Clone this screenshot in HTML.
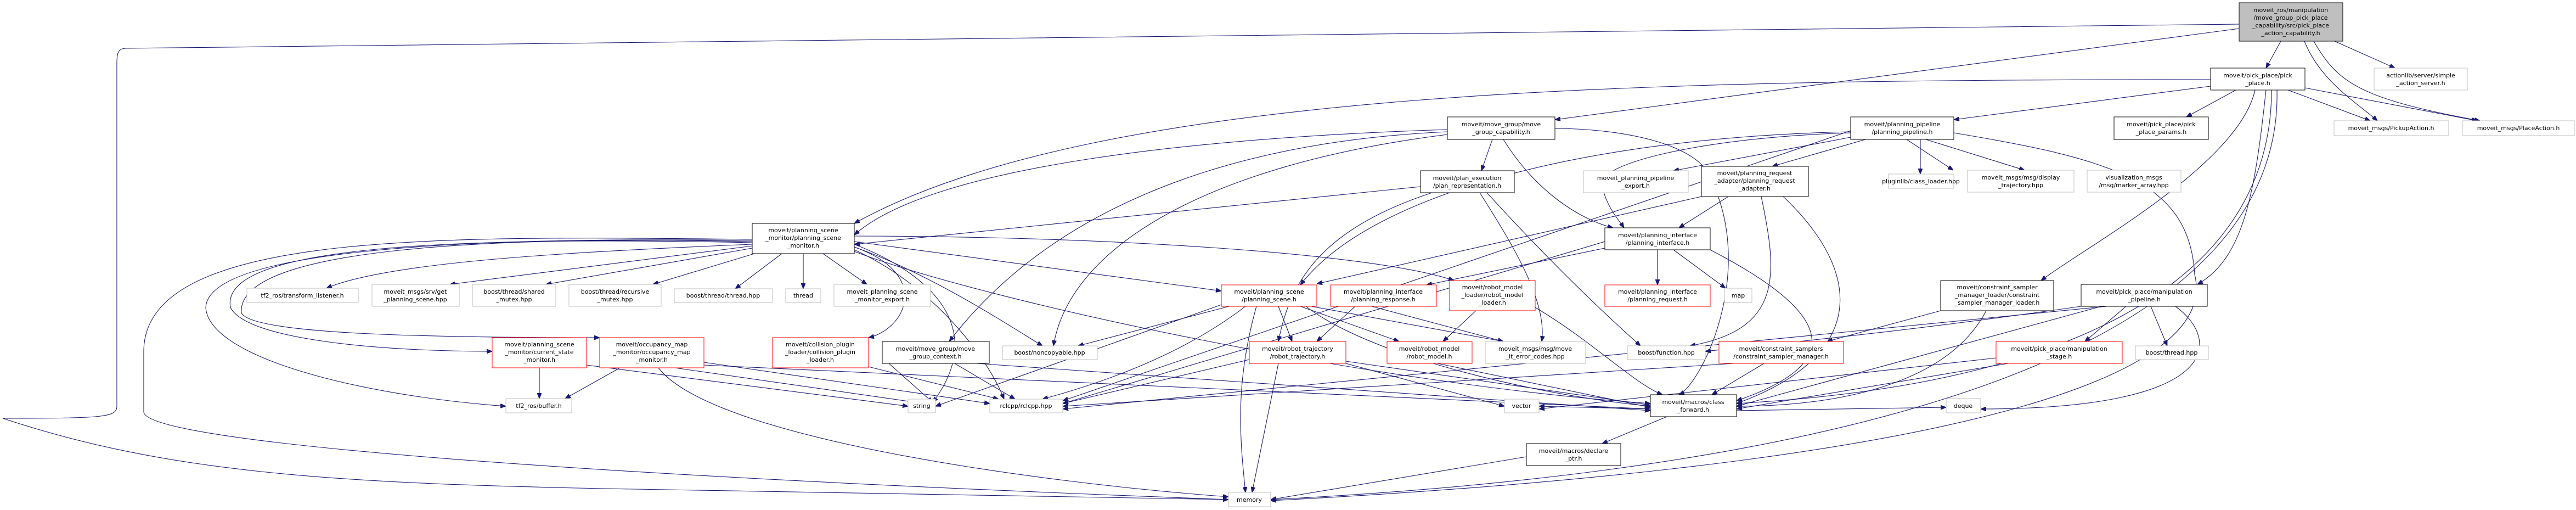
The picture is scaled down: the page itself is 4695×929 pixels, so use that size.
<!DOCTYPE html>
<html><head><meta charset="utf-8"><style>
html,body{margin:0;padding:0;background:#fff}
svg{display:block}
text{font-family:"DejaVu Sans","Liberation Sans",sans-serif;font-size:11px;fill:#000}
.e{fill:none;stroke:#191970;stroke-width:1.1}
.b{fill:#fff;stroke:#000;stroke-width:1}
.g{fill:#fff;stroke:#bfbfbf;stroke-width:1}
.r{fill:#fff;stroke:#ff0000;stroke-width:1}
</style></head><body>
<svg width="4695" height="929" viewBox="0 0 4695 929" xmlns="http://www.w3.org/2000/svg">
<defs><marker id="a" viewBox="0 0 10 8" refX="10" refY="4" markerWidth="10" markerHeight="8" markerUnits="userSpaceOnUse" orient="auto"><path d="M0,0 L10,4 L0,8 z" fill="#191970" stroke="#191970"/></marker></defs>
<g>
<path class="e" marker-end="url(#a)" d="M4157,75 L4130,124"/>
<path class="e" marker-end="url(#a)" d="M4255,75 L4365,124"/>
<path class="e" marker-end="url(#a)" d="M4200,75 C4230,150 4300,190 4333,220"/>
<path class="e" marker-end="url(#a)" d="M4217,75 C4260,150 4300,180 4520,220"/>
<path class="e" marker-end="url(#a)" d="M4081,52 L2834,218"/>
<path class="e" marker-end="url(#a)" d="M4081,44 L230,88 C213,88 213,100 213,120 L213,740 C213,760 190,762 5,762 C300,860 600,880 1100,890 L2239,910"/>
<path class="e" marker-end="url(#a)" d="M4029,157 L3561,218"/>
<path class="e" marker-end="url(#a)" d="M4075,164 L3985,213"/>
<path class="e" marker-end="url(#a)" d="M4170,164 L4320,220"/>
<path class="e" marker-end="url(#a)" d="M4201,160 L4515,220"/>
<path class="e" marker-end="url(#a)" d="M4029,145 C3000,145 2000,160 1557,407"/>
<path class="e" marker-end="url(#a)" d="M4110,164 C4080,300 3800,450 3720,511"/>
<path class="e" marker-end="url(#a)" d="M4130,164 C4110,350 4090,470 4005,518"/>
<path class="e" marker-end="url(#a)" d="M4140,164 C4140,500 3800,700 3165,735"/>
<path class="e" marker-end="url(#a)" d="M4150,164 C4160,600 3500,850 2316,910"/>
<path class="e" marker-end="url(#a)" d="M2720,254 L2700,311"/>
<path class="e" marker-end="url(#a)" d="M2740,254 C2800,350 2880,400 2940,415"/>
<path class="e" marker-end="url(#a)" d="M2638,236 C2200,250 1700,300 1557,428"/>
<path class="e" marker-end="url(#a)" d="M2638,240 C2200,260 1900,400 1730,622"/>
<path class="e" marker-end="url(#a)" d="M2638,245 C2200,300 1950,450 1920,630"/>
<path class="e" marker-end="url(#a)" d="M2834,234 C2950,234 3100,260 3120,330 C3200,500 3100,700 3060,719"/>
<path class="e" marker-end="url(#a)" d="M2589,340 L1557,445"/>
<path class="e" marker-end="url(#a)" d="M2610,351 C2400,420 2350,520 2330,622"/>
<path class="e" marker-end="url(#a)" d="M2697,351 C2760,450 2820,550 2810,622"/>
<path class="e" marker-end="url(#a)" d="M2710,351 C2800,450 2900,550 2990,630"/>
<path class="e" marker-end="url(#a)" d="M3500,254 L3500,317"/>
<path class="e" marker-end="url(#a)" d="M3475,254 L3560,310"/>
<path class="e" marker-end="url(#a)" d="M3510,254 L3690,310"/>
<path class="e" marker-end="url(#a)" d="M3400,254 L3230,303"/>
<path class="e" marker-end="url(#a)" d="M3373,250 L3050,311"/>
<path class="e" marker-end="url(#a)" d="M3373,242 C3100,250 2900,300 2920,340 C2930,380 2950,400 2960,415"/>
<path class="e" marker-end="url(#a)" d="M3373,240 C2900,250 2500,350 2370,519"/>
<path class="e" marker-end="url(#a)" d="M3373,238 L1937,730"/>
<path class="e" marker-end="url(#a)" d="M3561,242 C3850,290 3990,330 4000,500 C4050,700 3500,850 2316,912"/>
<path class="e" marker-end="url(#a)" d="M3150,358 L3060,415"/>
<path class="e" marker-end="url(#a)" d="M3210,358 C3240,500 3250,600 3080,630"/>
<path class="e" marker-end="url(#a)" d="M3101,358 L2400,517"/>
<path class="e" marker-end="url(#a)" d="M3250,358 C3400,500 3400,650 3165,735"/>
<path class="e" marker-end="url(#a)" d="M3021,455 L3021,519"/>
<path class="e" marker-end="url(#a)" d="M3050,455 L3145,525"/>
<path class="e" marker-end="url(#a)" d="M2925,452 L2600,519"/>
<path class="e" marker-end="url(#a)" d="M2925,440 L1937,735"/>
<path class="e" marker-end="url(#a)" d="M3117,455 C3300,550 3400,650 3165,730"/>
<path class="e" marker-end="url(#a)" d="M1371,445 C1000,460 700,480 595,525"/>
<path class="e" marker-end="url(#a)" d="M1371,448 L820,518"/>
<path class="e" marker-end="url(#a)" d="M1371,452 L995,518"/>
<path class="e" marker-end="url(#a)" d="M1375,462 L1190,518"/>
<path class="e" marker-end="url(#a)" d="M1425,462 L1340,526"/>
<path class="e" marker-end="url(#a)" d="M1464,462 L1464,526"/>
<path class="e" marker-end="url(#a)" d="M1500,462 L1580,518"/>
<path class="e" marker-end="url(#a)" d="M1371,442 C800,430 400,450 420,560 C450,620 700,640 897,640"/>
<path class="e" marker-end="url(#a)" d="M1371,440 C900,430 430,450 440,570 C460,610 800,615 1093,615"/>
<path class="e" marker-end="url(#a)" d="M1371,438 C800,430 380,460 375,560 C380,650 650,720 922,740"/>
<path class="e" marker-end="url(#a)" d="M1371,436 C800,430 262,420 262,640 L262,750 C262,800 900,860 2239,910"/>
<path class="e" marker-end="url(#a)" d="M1557,445 C1700,500 1800,600 1700,733"/>
<path class="e" marker-end="url(#a)" d="M1557,455 C1700,520 1800,650 1830,727"/>
<path class="e" marker-end="url(#a)" d="M1557,450 C1700,500 1850,600 1900,630"/>
<path class="e" marker-end="url(#a)" d="M1557,440 L2226,530"/>
<path class="e" marker-end="url(#a)" d="M1557,430 C2000,430 2500,460 2650,511"/>
<path class="e" marker-end="url(#a)" d="M1557,450 C1700,500 1650,600 1583,615"/>
<path class="e" marker-end="url(#a)" d="M1557,458 C1800,550 2500,700 3008,735"/>
<path class="e" marker-end="url(#a)" d="M2330,558 L2355,622"/>
<path class="e" marker-end="url(#a)" d="M2240,558 L1965,630"/>
<path class="e" marker-end="url(#a)" d="M2270,558 C2150,650 2000,700 1900,727"/>
<path class="e" marker-end="url(#a)" d="M2290,558 C2250,700 2260,800 2270,897"/>
<path class="e" marker-end="url(#a)" d="M2370,558 L2550,622"/>
<path class="e" marker-end="url(#a)" d="M2390,558 L2740,622"/>
<path class="e" marker-end="url(#a)" d="M2380,558 C2500,650 2800,720 3008,740"/>
<path class="e" marker-end="url(#a)" d="M2226,555 L1705,740"/>
<path class="e" marker-end="url(#a)" d="M2470,558 L2400,622"/>
<path class="e" marker-end="url(#a)" d="M2500,558 L2740,622"/>
<path class="e" marker-end="url(#a)" d="M2690,566 L2630,622"/>
<path class="e" marker-end="url(#a)" d="M2798,560 C2900,620 2980,700 3030,719"/>
<path class="e" marker-end="url(#a)" d="M983,670 L983,726"/>
<path class="e" marker-end="url(#a)" d="M1069,665 L1655,740"/>
<path class="e" marker-end="url(#a)" d="M1130,670 L1030,726"/>
<path class="e" marker-end="url(#a)" d="M1230,670 L1670,733"/>
<path class="e" marker-end="url(#a)" d="M1283,660 L1804,735"/>
<path class="e" marker-end="url(#a)" d="M1200,670 C1300,800 1900,880 2239,905"/>
<path class="e" marker-end="url(#a)" d="M1283,665 L3008,745"/>
<path class="e" marker-end="url(#a)" d="M1583,668 L1820,727"/>
<path class="e" marker-end="url(#a)" d="M1740,662 L1850,727"/>
<path class="e" marker-end="url(#a)" d="M1620,662 L1700,733"/>
<path class="e" marker-end="url(#a)" d="M1780,662 L3008,748"/>
<path class="e" marker-end="url(#a)" d="M2277,655 L1937,735"/>
<path class="e" marker-end="url(#a)" d="M2330,662 L2282,897"/>
<path class="e" marker-end="url(#a)" d="M2453,658 L3008,738"/>
<path class="e" marker-end="url(#a)" d="M2453,662 L2742,740"/>
<path class="e" marker-end="url(#a)" d="M2620,662 L3008,742"/>
<path class="e" marker-end="url(#a)" d="M3215,662 L3120,719"/>
<path class="e" marker-end="url(#a)" d="M3160,662 L1937,740"/>
<path class="e" marker-end="url(#a)" d="M3537,566 L3330,622"/>
<path class="e" marker-end="url(#a)" d="M3620,566 C3550,700 3350,740 3165,740"/>
<path class="e" marker-end="url(#a)" d="M3875,558 L3800,622"/>
<path class="e" marker-end="url(#a)" d="M3920,558 L3950,630"/>
<path class="e" marker-end="url(#a)" d="M3793,558 C3500,600 3300,620 3108,640"/>
<path class="e" marker-end="url(#a)" d="M3965,558 C4050,620 4050,745 3610,745"/>
<path class="e" marker-end="url(#a)" d="M3840,558 L1937,745"/>
<path class="e" marker-end="url(#a)" d="M3830,558 L3165,740"/>
<path class="e" marker-end="url(#a)" d="M3660,662 L3165,745"/>
<path class="e" marker-end="url(#a)" d="M3638,652 L2805,745"/>
<path class="e" marker-end="url(#a)" d="M3165,748 L3547,742"/>
<path class="e" marker-end="url(#a)" d="M3038,759 L2920,808"/>
<path class="e" marker-end="url(#a)" d="M3008,745 L2805,740"/>
<path class="e" marker-end="url(#a)" d="M2782,832 L2316,910"/>
</g>
<g text-anchor="middle">
<rect x="4081" y="5" width="189" height="70" fill="#bfbfbf" stroke="#000"/>
<text x="4175" y="22">moveit_ros/manipulation</text><text x="4175" y="36">/move_group_pick_place</text><text x="4175" y="50">_capability/src/pick_place</text><text x="4175" y="64">_action_capability.h</text>
<rect class="b" x="4029" y="124" width="172" height="40"/><text x="4115" y="141">moveit/pick_place/pick</text><text x="4115" y="155">_place.h</text>
<rect class="g" x="4327" y="124" width="170" height="40"/><text x="4412" y="141">actionlib/server/simple</text><text x="4412" y="155">_action_server.h</text>
<rect class="b" x="2638" y="213" width="196" height="41"/><text x="2736" y="230">moveit/move_group/move</text><text x="2736" y="244">_group_capability.h</text>
<rect class="b" x="3373" y="213" width="188" height="41"/><text x="3467" y="230">moveit/planning_pipeline</text><text x="3467" y="244">/planning_pipeline.h</text>
<rect class="b" x="3853" y="213" width="172" height="41"/><text x="3939" y="230">moveit/pick_place/pick</text><text x="3939" y="244">_place_params.h</text>
<rect class="g" x="4254" y="220" width="209" height="27"/><text x="4358" y="237">moveit_msgs/PickupAction.h</text>
<rect class="g" x="4488" y="220" width="204" height="27"/><text x="4590" y="237">moveit_msgs/PlaceAction.h</text>
<rect class="b" x="2589" y="311" width="171" height="40"/><text x="2674" y="328">moveit/plan_execution</text><text x="2674" y="342">/plan_representation.h</text>
<rect class="g" x="2886" y="311" width="191" height="40"/><text x="2981" y="328">moveit_planning_pipeline</text><text x="2981" y="342">_export.h</text>
<rect class="b" x="3101" y="303" width="195" height="55"/><text x="3198" y="319">moveit/planning_request</text><text x="3198" y="333">_adapter/planning_request</text><text x="3198" y="347">_adapter.h</text>
<rect class="g" x="3442" y="317" width="119" height="26"/><text x="3501" y="334">pluginlib/class_loader.hpp</text>
<rect class="g" x="3586" y="310" width="194" height="40"/><text x="3683" y="327">moveit_msgs/msg/display</text><text x="3683" y="341">_trajectory.hpp</text>
<rect class="g" x="3804" y="310" width="171" height="40"/><text x="3889" y="327">visualization_msgs</text><text x="3889" y="341">/msg/marker_array.hpp</text>
<rect class="b" x="1371" y="407" width="186" height="55"/><text x="1464" y="423">moveit/planning_scene</text><text x="1464" y="437">_monitor/planning_scene</text><text x="1464" y="451">_monitor.h</text>
<rect class="b" x="2925" y="415" width="192" height="40"/><text x="3021" y="432">moveit/planning_interface</text><text x="3021" y="446">/planning_interface.h</text>
<rect class="b" x="3537" y="511" width="206" height="55"/><text x="3640" y="527">moveit/constraint_sampler</text><text x="3640" y="541">_manager_loader/constraint</text><text x="3640" y="555">_sampler_manager_loader.h</text>
<rect class="b" x="3793" y="518" width="230" height="40"/><text x="3908" y="535">moveit/pick_place/manipulation</text><text x="3908" y="549">_pipeline.h</text>
<rect class="g" x="450" y="525" width="203" height="26"/><text x="551" y="542">tf2_ros/transform_listener.h</text>
<rect class="g" x="678" y="518" width="159" height="40"/><text x="757" y="535">moveit_msgs/srv/get</text><text x="757" y="549">_planning_scene.hpp</text>
<rect class="g" x="861" y="518" width="152" height="40"/><text x="937" y="535">boost/thread/shared</text><text x="937" y="549">_mutex.hpp</text>
<rect class="g" x="1037" y="518" width="168" height="40"/><text x="1121" y="535">boost/thread/recursive</text><text x="1121" y="549">_mutex.hpp</text>
<rect class="g" x="1229" y="526" width="179" height="25"/><text x="1318" y="542">boost/thread/thread.hpp</text>
<rect class="g" x="1432" y="526" width="64" height="25"/><text x="1464" y="542">thread</text>
<rect class="g" x="1520" y="518" width="176" height="40"/><text x="1608" y="535">moveit_planning_scene</text><text x="1608" y="549">_monitor_export.h</text>
<rect class="r" x="2226" y="519" width="174" height="39"/><text x="2313" y="535">moveit/planning_scene</text><text x="2313" y="549">/planning_scene.h</text>
<rect class="r" x="2425" y="519" width="193" height="39"/><text x="2521" y="535">moveit/planning_interface</text><text x="2521" y="549">/planning_response.h</text>
<rect class="r" x="2642" y="511" width="156" height="55"/><text x="2720" y="527">moveit/robot_model</text><text x="2720" y="541">_loader/robot_model</text><text x="2720" y="555">_loader.h</text>
<rect class="r" x="2925" y="519" width="192" height="39"/><text x="3021" y="535">moveit/planning_interface</text><text x="3021" y="549">/planning_request.h</text>
<rect class="g" x="3143" y="525" width="50" height="26"/><text x="3168" y="542">map</text>
<rect class="r" x="897" y="615" width="172" height="55"/><text x="983" y="631">moveit/planning_scene</text><text x="983" y="645">_monitor/current_state</text><text x="983" y="659">_monitor.h</text>
<rect class="r" x="1093" y="615" width="190" height="55"/><text x="1188" y="631">moveit/occupancy_map</text><text x="1188" y="645">_monitor/occupancy_map</text><text x="1188" y="659">_monitor.h</text>
<rect class="r" x="1408" y="615" width="175" height="55"/><text x="1495" y="631">moveit/collision_plugin</text><text x="1495" y="645">_loader/collision_plugin</text><text x="1495" y="659">_loader.h</text>
<rect class="b" x="1608" y="622" width="195" height="40"/><text x="1705" y="639">moveit/move_group/move</text><text x="1705" y="653">_group_context.h</text>
<rect class="g" x="1827" y="630" width="173" height="25"/><text x="1913" y="646">boost/noncopyable.hpp</text>
<rect class="r" x="2277" y="622" width="176" height="40"/><text x="2365" y="639">moveit/robot_trajectory</text><text x="2365" y="653">/robot_trajectory.h</text>
<rect class="r" x="2528" y="622" width="155" height="40"/><text x="2605" y="639">moveit/robot_model</text><text x="2605" y="653">/robot_model.h</text>
<rect class="g" x="2707" y="622" width="183" height="40"/><text x="2798" y="639">moveit_msgs/msg/move</text><text x="2798" y="653">_it_error_codes.hpp</text>
<rect class="g" x="2966" y="630" width="142" height="25"/><text x="3037" y="646">boost/function.hpp</text>
<rect class="r" x="3133" y="622" width="227" height="40"/><text x="3246" y="639">moveit/constraint_samplers</text><text x="3246" y="653">/constraint_sampler_manager.h</text>
<rect class="r" x="3638" y="622" width="230" height="40"/><text x="3753" y="639">moveit/pick_place/manipulation</text><text x="3753" y="653">_stage.h</text>
<rect class="g" x="3892" y="630" width="133" height="25"/><text x="3958" y="646">boost/thread.hpp</text>
<rect class="g" x="922" y="726" width="120" height="26"/><text x="982" y="743">tf2_ros/buffer.h</text>
<rect class="g" x="1655" y="727" width="50" height="25"/><text x="1680" y="743">string</text>
<rect class="g" x="1804" y="727" width="133" height="25"/><text x="1870" y="743">rclcpp/rclcpp.hpp</text>
<rect class="g" x="2742" y="727" width="63" height="25"/><text x="2773" y="743">vector</text>
<rect class="b" x="3008" y="719" width="157" height="40"/><text x="3086" y="736">moveit/macros/class</text><text x="3086" y="750">_forward.h</text>
<rect class="g" x="3547" y="726" width="63" height="26"/><text x="3578" y="743">deque</text>
<rect class="b" x="2782" y="808" width="172" height="40"/><text x="2868" y="825">moveit/macros/declare</text><text x="2868" y="839">_ptr.h</text>
<rect class="g" x="2239" y="897" width="77" height="26"/><text x="2277" y="914">memory</text>
</g>
</svg>
</body></html>
